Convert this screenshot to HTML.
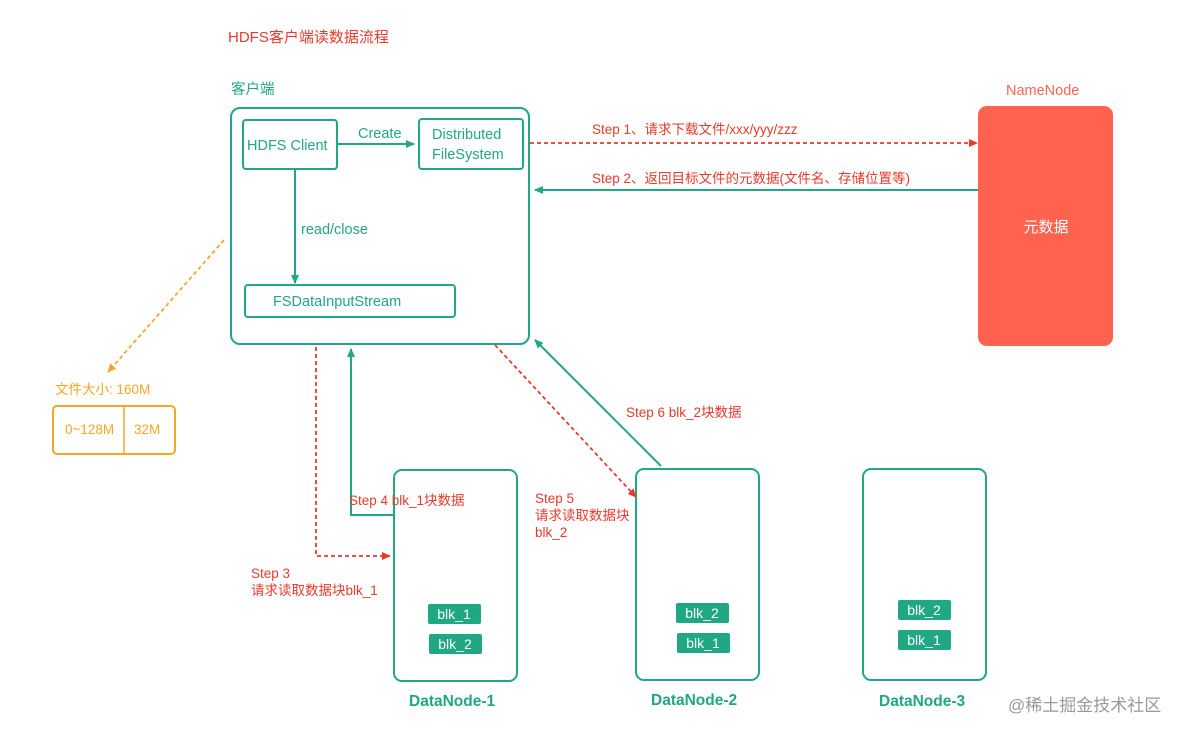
<!DOCTYPE html>
<html><head><meta charset="utf-8"><style>
html,body{margin:0;padding:0;background:#fff;}
svg{display:block;font-family:"Liberation Sans","Noto Sans CJK SC",sans-serif;}
</style></head><body>
<svg width="1190" height="736" viewBox="0 0 1190 736" xmlns="http://www.w3.org/2000/svg">
<defs>
<marker id="g" markerWidth="10" markerHeight="10" refX="8" refY="5" orient="auto" markerUnits="userSpaceOnUse"><path d="M0,1 L9,5 L0,9 z" fill="#1fa883"/></marker>
<marker id="r" markerWidth="10" markerHeight="10" refX="8" refY="5" orient="auto" markerUnits="userSpaceOnUse"><path d="M0,1 L9,5 L0,9 z" fill="#e8392b"/></marker>
<marker id="o" markerWidth="10" markerHeight="10" refX="8" refY="5" orient="auto" markerUnits="userSpaceOnUse"><path d="M0,1 L9,5 L0,9 z" fill="#f5a623"/></marker>
</defs>
<g fill="none" stroke="#1fa883" stroke-width="2">
<rect x="231" y="108" width="298" height="236" rx="9"/>
<rect x="243" y="120" width="94" height="49" rx="3"/>
<rect x="419" y="119" width="104" height="50" rx="3"/>
<rect x="245" y="285" width="210" height="32" rx="3"/>
<rect x="394" y="470" width="123" height="211" rx="8"/>
<rect x="636" y="469" width="123" height="211" rx="8"/>
<rect x="863" y="469" width="123" height="211" rx="8"/>
<line x1="337" y1="144" x2="414" y2="144" marker-end="url(#g)"/>
<line x1="295" y1="169" x2="295" y2="283" marker-end="url(#g)"/>
<line x1="978" y1="190" x2="535" y2="190" marker-end="url(#g)"/>
<polyline points="393,515 351,515 351,349" marker-end="url(#g)"/>
<line x1="661" y1="466" x2="535" y2="340" marker-end="url(#g)"/>
</g>
<g fill="none" stroke="#e8392b" stroke-width="1.8" stroke-dasharray="4,3">
<line x1="530" y1="143" x2="977" y2="143" marker-end="url(#r)"/>
<polyline points="316,347 316,556 390,556" marker-end="url(#r)"/>
<line x1="495" y1="345" x2="636" y2="497" marker-end="url(#r)"/>
</g>
<line x1="224" y1="240" x2="108" y2="372" stroke="#f5a623" stroke-width="1.8" stroke-dasharray="4,3" marker-end="url(#o)"/>
<rect x="53" y="406" width="122" height="48" rx="4" fill="none" stroke="#f5a623" stroke-width="2"/>
<line x1="124" y1="406" x2="124" y2="454" stroke="#f5a623" stroke-width="1.5"/>
<rect x="978" y="106" width="135" height="240" rx="9" fill="#ff6350"/>
<g fill="#1fa883">
<rect x="428" y="604" width="53" height="20" rx="2"/>
<rect x="429" y="634" width="53" height="20" rx="2"/>
<rect x="676" y="603" width="53" height="20" rx="2"/>
<rect x="677" y="633" width="53" height="20" rx="2"/>
<rect x="898" y="600" width="53" height="20" rx="2"/>
<rect x="898" y="630" width="53" height="20" rx="2"/>
</g>
<g fill="#fff" font-size="14" text-anchor="middle">
<text x="454" y="619">blk_1</text><text x="455" y="649">blk_2</text>
<text x="702" y="618">blk_2</text><text x="703" y="648">blk_1</text>
<text x="924" y="615">blk_2</text><text x="924" y="645">blk_1</text>
<text x="1046" y="232" font-size="15">元数据</text>
</g>
<g fill="#1fa883" font-size="14.5">
<text x="231" y="94">客户端</text>
<text x="247" y="150">HDFS Client</text>
<text x="358" y="138">Create</text>
<text x="432" y="139">Distributed</text>
<text x="432" y="159">FileSystem</text>
<text x="301" y="234">read/close</text>
<text x="273" y="306">FSDataInputStream</text>
<g font-weight="bold" font-size="15.5"><text x="409" y="706">DataNode-1</text><text x="651" y="705">DataNode-2</text><text x="879" y="706">DataNode-3</text></g>
</g>
<g fill="#e8392b" font-size="13.5">
<text x="228" y="42" font-size="15">HDFS客户端读数据流程</text>
<text x="1006" y="95" fill="#ff6350" font-size="14.5">NameNode</text>
<text x="592" y="134">Step 1、请求下载文件/xxx/yyy/zzz</text>
<text x="592" y="183">Step 2、返回目标文件的元数据(文件名、存储位置等)</text>
<text x="626" y="417">Step 6 blk_2块数据</text>
<text x="349" y="505">Step 4 blk_1块数据</text>
<text x="535" y="503">Step 5</text>
<text x="535" y="520">请求读取数据块</text>
<text x="535" y="537">blk_2</text>
<text x="251" y="578">Step 3</text>
<text x="251" y="595">请求读取数据块blk_1</text>
</g>
<g fill="#f5a623" font-size="13.5">
<text x="55" y="394">文件大小: 160M</text>
<text x="65" y="434">0~128M</text>
<text x="134" y="434">32M</text>
</g>
<text x="1008" y="711" fill="#999" font-size="17">@稀土掘金技术社区</text>
</svg>
</body></html>
